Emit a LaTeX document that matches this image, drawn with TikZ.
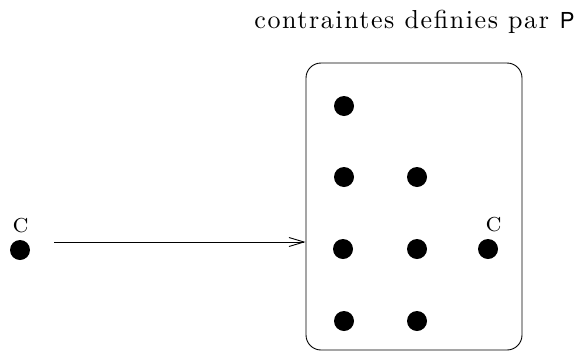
\documentclass[tikz,border=0pt]{standalone}
\usepackage{fontspec}
\newfontfamily\heros{TeX Gyre Heros}
\newfontfamily\lmten{lmroman10-regular.otf}[LetterSpace=6]
\newfontfamily\lmcaps{lmromancaps10-regular.otf}
\usetikzlibrary{arrows.meta}
\begin{document}
\begin{tikzpicture}[x=1pt,y=-1pt,
  dot/.style={circle,fill=black,minimum size=20pt,inner sep=0pt},
  lbl/.style={inner sep=0pt,font=\lmcaps\fontsize{27}{27}\selectfont},
  line width=0.9pt]
\useasboundingbox (0,0) rectangle (578,354);
% title
\node[anchor=base west,inner sep=0pt] (title) at (254,28)
  {{\lmten\fontsize{26}{26}\selectfont contraintes definies par}\hspace{11pt}{\heros\fontsize{22}{22}\selectfont P}};
% box
\node[draw,rounded corners=15pt,minimum width=216pt,minimum height=287pt,inner sep=0pt] (box) at (414,206.5) {};
% dots inside
\node[dot] (d11) at (344,106) {};
\node[dot] (d21) at (344,177) {};
\node[dot] (d22) at (417,177) {};
\node[dot] (d31) at (343,249) {};
\node[dot] (d32) at (417,249) {};
\node[dot] (d33) at (488,249) {};
\node[dot] (d41) at (344,321) {};
\node[dot] (d42) at (417,321) {};
\node[lbl] (c2) at (493.5,224.5) {c};
% outside dot
\node[dot] (d0) at (20,250) {};
\node[lbl] (c1) at (20.5,225.5) {c};
% arrow
\coordinate (a0) at (54,242);
\draw[-{Straight Barb[length=15pt,width=9pt]}] (a0) -- (a0 -| box.west);
\end{tikzpicture}
\end{document}
